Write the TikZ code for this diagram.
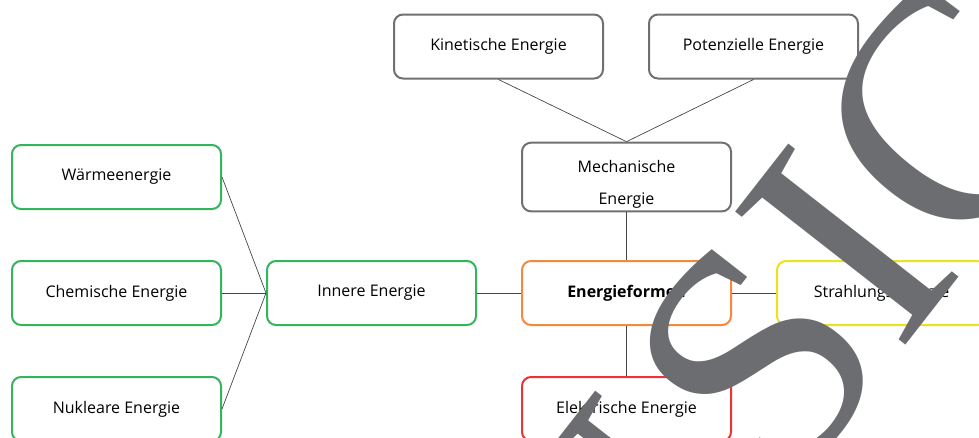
\documentclass[tikz,border=0pt]{standalone}
\usepackage{fontspec}
\newfontfamily\labelfont{Open Sans}
\newfontfamily\markfont{Liberation Serif}
\definecolor{formgray}{RGB}{112,112,112}
\definecolor{formgreen}{RGB}{52,180,92}
\definecolor{formorange}{RGB}{244,136,62}
\definecolor{formyellow}{RGB}{232,226,34}
\definecolor{formred}{RGB}{234,52,52}
\definecolor{linkgray}{RGB}{70,70,70}
\definecolor{markgray}{RGB}{108,109,113}

\begin{document}
\begin{tikzpicture}[x=1pt, y=-1pt,
		form/.style={draw=formgray, line width=2pt, rounded corners=9pt, minimum width=209pt, minimum height=64pt, align=center, font=\labelfont\fontsize{16}{32}\selectfont},
		link/.style={draw=linkgray, line width=0.7pt}]
		
		\clip (0,0) rectangle (979,437);
		
		% mechanical branch
		\node[form] (kinetic) at (498.5,46.5) {Kinetische Energie};
		\node[form] (potential) at (753.5,46.5) {Potenzielle Energie};
		\node[form, text height=58pt, text depth=4pt] (mechanic) at (626.5,177) {Mechanische\\Energie};
		
		% centre
		\node[form, draw=formorange, font=\labelfont\bfseries\fontsize{16}{18}\selectfont] (forms) at (626.5,293) {Energieformen};
		\node[form, draw=formyellow] (radiation) at (881.5,293) {Strahlungsenergie};
		\node[form, draw=formred] (electric) at (626.5,409) {Elektrische Energie};
		
		% inner energy
		\node[form, draw=formgreen] (inner) at (371.5,293) {Innere Energie};
		\node[form, draw=formgreen] (heat) at (116.5,177) {Wärmeenergie};
		\node[form, draw=formgreen] (chemical) at (116.5,293) {Chemische Energie};
		\node[form, draw=formgreen] (nuclear) at (116.5,409) {Nukleare Energie};
		
		\draw[link] (kinetic.south) -- (mechanic.north);
		\draw[link] (potential.south) -- (mechanic.north);
		\draw[link] (mechanic.south) -- (forms.north);
		\draw[link] (forms.south) -- (electric.north);
		\draw[link] (forms.east) -- (radiation.west);
		\draw[link] (forms.west) -- (inner.east);
		\draw[link] (inner.west) -- (heat.east);
		\draw[link] (inner.west) -- (chemical.east);
		\draw[link] (inner.west) -- (nuclear.east);
		
		% watermark
		\node[rotate=52, text=markgray, inner sep=0pt, font=\markfont\fontsize{330}{330}\selectfont] (mark) at (688,450) {MU\kern25pt SIC};
		
	\end{tikzpicture}
\end{document}
